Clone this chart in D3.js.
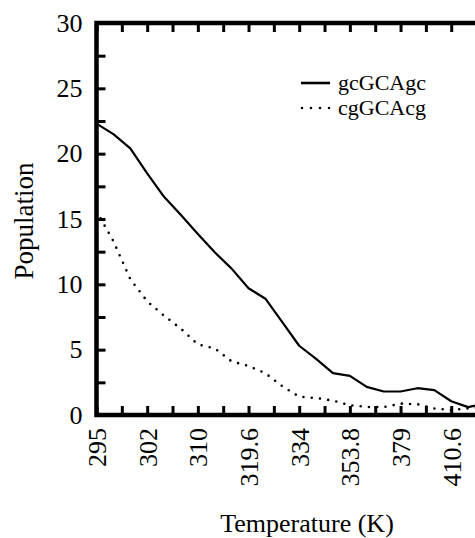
<!DOCTYPE html>
<html>
<head>
<meta charset="utf-8">
<script src="https://cdn.jsdelivr.net/npm/d3@7"></script>
<style>
  html, body { margin: 0; padding: 0; background: #fff; overflow: hidden; }
  text { font-family: "Liberation Serif", "DejaVu Serif", serif; fill: #000; }
</style>
</head>
<body>
<div id="chart"></div>
<script>
// values, one per replica (index 0 = 295 K)
const gcGCAgc = [22.3, 21.5, 20.4, 18.5, 16.7, 15.3, 13.85, 12.45, 11.2, 9.7, 8.9, 7.1,
                 5.3, 4.3, 3.2, 3.0, 2.15, 1.8, 1.8, 2.05, 1.9, 1.05, 0.6, 0.9];
const cgGCAcg = [15.6, 13.3, 10.4, 8.7, 7.6, 6.6, 5.4, 5.1, 4.1, 3.75, 3.2, 2.2,
                 1.4, 1.3, 1.1, 0.75, 0.62, 0.6, 0.87, 0.83, 0.5, 0.38, 0.5, 0.65];
const tempLabels = ["295", "302", "310", "319.6", "334", "353.8", "379", "410.6"];
const yTicks = [0, 5, 10, 15, 20, 25, 30];
const seriesNames = ["gcGCAgc", "cgGCAcg"];

//*************************1. Set up Measurement
let dimensions = {
    width: 475,
    height: 538,
    margin: { top: 23, right: -10, bottom: 123, left: 96.5 }
}
dimensions.boundedWidth = dimensions.width - dimensions.margin.left - dimensions.margin.right
dimensions.boundedHeight = dimensions.height - dimensions.margin.top - dimensions.margin.bottom

//*************************2. Draw Canvas
const wrapper = d3.select("#chart")
    .append("svg")
    .attr("width", dimensions.width)
    .attr("height", dimensions.height)

const bounds = wrapper.append("g")
    .attr("transform", `translate(${dimensions.margin.left},${dimensions.margin.top})`)

//*************************3. Scales
const xScale = d3.scaleLinear()
    .domain([0, gcGCAgc.length - 1])
    .range([0, dimensions.boundedWidth])

const yScale = d3.scaleLinear()
    .domain([0, 30])
    .range([dimensions.boundedHeight, 0])

const minorX = d3.range(0, gcGCAgc.length - 1, 1.5)
const minorY = d3.range(0, 30.01, 2.5)

//*************************4. Lines
bounds.append("clipPath").attr("id", "clip")
    .append("rect")
    .attr("width", dimensions.boundedWidth)
    .attr("height", dimensions.boundedHeight)

const lineGenerator = d3.line()
    .x((d, i) => xScale(i))
    .y(d => yScale(d))

bounds.append("path")
    .attr("clip-path", "url(#clip)")
    .attr("d", lineGenerator(gcGCAgc))
    .attr("fill", "none")
    .attr("stroke", "#000")
    .attr("stroke-width", 2.2)
    .attr("stroke-linejoin", "round")

bounds.append("path")
    .attr("clip-path", "url(#clip)")
    .attr("d", lineGenerator(cgGCAcg))
    .attr("fill", "none")
    .attr("stroke", "#000")
    .attr("stroke-width", 2.6)
    .attr("stroke-linecap", "round")
    .attr("stroke-dasharray", "0 8.3")

//*************************5. Axes (frame with inward ticks)
const tickLen = 9
const axisStyle = g => {
    g.select(".domain").remove()
    g.selectAll(".tick line").attr("stroke", "#000").attr("stroke-width", 3)
}

const xAxisBottom = bounds.append("g")
    .attr("transform", `translate(0,${dimensions.boundedHeight})`)
    .call(d3.axisBottom(xScale).tickValues(minorX).tickSizeInner(-tickLen).tickSizeOuter(0)
        .tickFormat(d => d % 3 === 0 ? tempLabels[d / 3] : ""))
    .call(axisStyle)

xAxisBottom.selectAll(".tick text")
    .attr("transform", "rotate(-90)")
    .attr("text-anchor", "end")
    .attr("x", -13)
    .attr("y", 0)
    .attr("dy", "0.35em")
    .style("font-size", "26px")

bounds.append("g")
    .call(d3.axisTop(xScale).tickValues(minorX).tickSizeInner(-tickLen).tickSizeOuter(0).tickFormat(""))
    .call(axisStyle)

bounds.append("g")
    .call(d3.axisLeft(yScale).tickValues(minorY).tickSizeInner(-tickLen).tickSizeOuter(0)
        .tickFormat(d => yTicks.includes(d) ? d : ""))
    .call(axisStyle)
    .selectAll(".tick text")
    .attr("x", -14)
    .style("font-size", "26px")

bounds.append("g")
    .attr("transform", `translate(${dimensions.boundedWidth},0)`)
    .call(d3.axisRight(yScale).tickValues(minorY).tickSizeInner(-tickLen).tickSizeOuter(0).tickFormat(""))
    .call(axisStyle)

bounds.append("rect")
    .attr("width", dimensions.boundedWidth)
    .attr("height", dimensions.boundedHeight)
    .attr("fill", "none")
    .attr("stroke", "#000")
    .attr("stroke-width", 4.5)

//*************************6. Axis titles
wrapper.append("text")
    .attr("transform", `translate(33,221) rotate(-90)`)
    .attr("text-anchor", "middle")
    .style("font-size", "27px")
    .text("Population")

wrapper.append("text")
    .attr("x", 307)
    .attr("y", 532)
    .attr("text-anchor", "middle")
    .style("font-size", "26px")
    .text("Temperature (K)")

//*************************7. Legend
const legend = wrapper.append("g")
    .attr("transform", "translate(301,83)")

seriesNames.forEach((name, i) => {
    const row = legend.append("g").attr("transform", `translate(0,${i * 25})`)
    row.append("line")
        .attr("x1", i ? 1 : 0).attr("x2", 29)
        .attr("stroke", "#000")
        .attr("stroke-width", 2.6)
        .attr("stroke-linecap", i ? "round" : "butt")
        .attr("stroke-dasharray", i ? "0 9" : null)
    row.append("text")
        .attr("x", 37)
        .attr("dy", "0.32em")
        .style("font-size", "22px")
        .text(name)
})
</script>
</body>
</html>
